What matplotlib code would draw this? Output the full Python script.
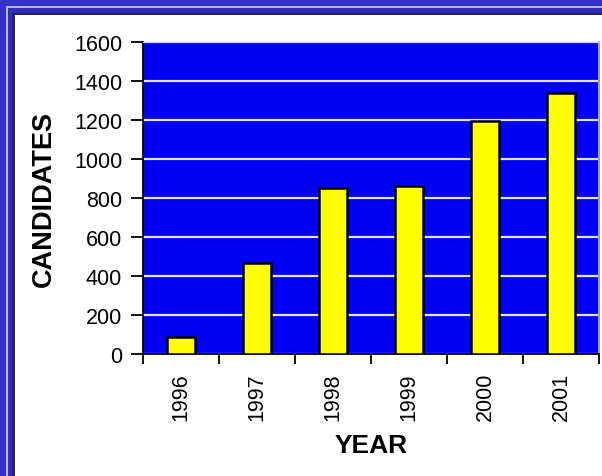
import matplotlib
matplotlib.use("Agg")
import matplotlib.pyplot as plt
from matplotlib.patches import Rectangle
import numpy as np

years = ["1996", "1997", "1998", "1999", "2000", "2001"]
candidates = [88, 467, 852, 863, 1196, 1338]
y_ticks = [0, 200, 400, 600, 800, 1000, 1200, 1400, 1600]

W, H = 602, 477
plt.rcParams["font.family"] = ["Liberation Sans", "DejaVu Sans"]

fig = plt.figure(figsize=(W / 100, H / 100), dpi=100)
fig.patch.set_facecolor("#3434c8")


def frame(x0, y0, color):
    # pixel offsets from left/top edges, box runs to right/bottom edge
    fig.add_artist(Rectangle((x0 / W, 0), 1 - x0 / W, 1 - y0 / H,
                             transform=fig.transFigure, facecolor=color,
                             edgecolor="none", zorder=0))


frame(6, 7, "#b8b8e8")
frame(7.5, 8.5, "#3030b8")
frame(12, 13.5, "#22227a")
frame(14.5, 15.5, "white")

ax = fig.add_axes([143 / W, 1 - 355 / H, 456 / W, 312 / H])
ax.set_facecolor("#0000f4")
x = np.arange(len(years))
ax.bar(x, candidates, width=0.375, color="#ffff00", edgecolor="black",
       linewidth=1.8, zorder=3)

ax.set_xlim(-0.5, len(years) - 0.5)
ax.set_ylim(0, 1600)
ax.set_yticks(y_ticks)
ax.set_yticklabels([str(v) for v in y_ticks], fontsize=15.5)
ax.yaxis.grid(True, color="#e0e0ff", linewidth=1.6, zorder=1)
ax.set_axisbelow(True)

ax.set_xticks(np.arange(len(years) + 1) - 0.5)
ax.set_xticklabels([])
ax.set_xticks(x, minor=True)
ax.set_xticklabels(years, minor=True, rotation=90, fontsize=15.5)
ax.tick_params(axis="x", which="minor", length=0, pad=13)
ax.tick_params(axis="x", which="major", length=7, width=1.3, direction="out")
ax.tick_params(axis="y", length=9, width=1.3, direction="out", pad=6)

for s in ["left", "bottom"]:
    ax.spines[s].set_color("black")
    ax.spines[s].set_linewidth(1.3)
ax.spines["top"].set_color("#c8c8f0")
ax.spines["right"].set_color("#a0a0a0")
ax.spines["right"].set_linewidth(1.5)

ax.set_xlabel("YEAR", fontsize=19, fontweight="bold", labelpad=9)
ax.set_ylabel("CANDIDATES", fontsize=19.5, fontweight="bold", labelpad=12)

fig.savefig("out.png", dpi=100, facecolor=fig.get_facecolor())
plt.close(fig)
